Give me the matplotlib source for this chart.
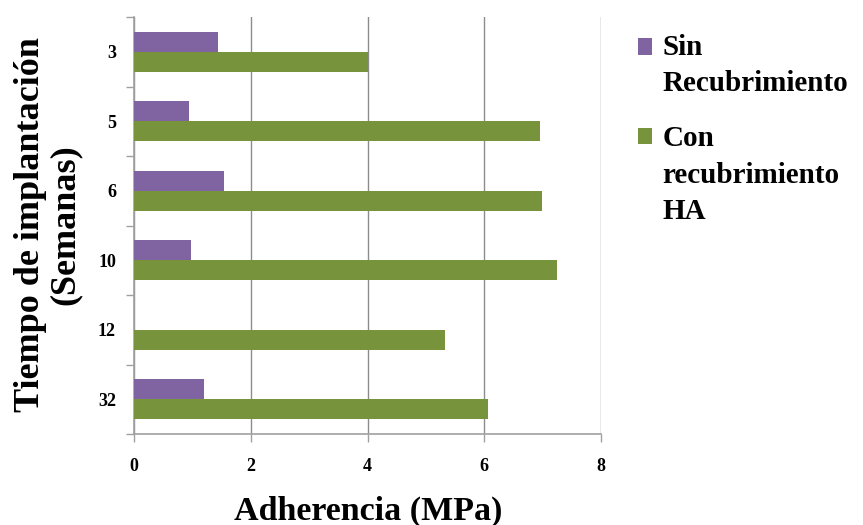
import matplotlib
matplotlib.use("Agg")
import matplotlib.pyplot as plt
from matplotlib.legend_handler import HandlerPatch
from matplotlib.patches import Rectangle
import numpy as np

# Adherencia por tiempo de implantacion
semanas = ['3', '5', '6', '10', '12', '32']
sin_recubrimiento = [1.44, 0.94, 1.54, 0.98, 0.0, 1.20]
con_recubrimiento_ha = [4.00, 6.95, 6.99, 7.25, 5.33, 6.06]
x_ticks = [0, 2, 4, 6, 8]

PURPLE = '#8064A2'
GREEN = '#77933C'
AXIS_GRAY = '#A0A0A0'
LEG_SIZE = 21
LEG_LINESPACING = 1.45

plt.rcParams['font.family'] = ['Liberation Serif', 'DejaVu Serif']
plt.rcParams['font.weight'] = 'bold'


class FirstLineHandler(HandlerPatch):
    """Square legend key placed next to the first line of a multi-line label."""

    def create_artists(self, legend, orig_handle, xdescent, ydescent,
                       width, height, fontsize, trans):
        n_lines = orig_handle.get_label().count('\n') + 1
        shift = (n_lines - 1) * 0.46 * LEG_LINESPACING * fontsize
        p = Rectangle((-xdescent, -ydescent + shift), width, height,
                      facecolor=orig_handle.get_facecolor(), edgecolor='none')
        p.set_transform(trans)
        return [p]


fig = plt.figure(figsize=(8.63, 5.25), dpi=100)
ax = fig.add_axes([134 / 863, 1 - 434 / 525, 467 / 863, 417 / 525])

pos = np.arange(len(semanas))
bar_h = 0.286

b1 = ax.barh(pos - bar_h / 2, sin_recubrimiento, height=bar_h, color=PURPLE, zorder=3)
b2 = ax.barh(pos + bar_h / 2, con_recubrimiento_ha, height=bar_h, color=GREEN, zorder=3)

ax.set_ylim(len(semanas) - 0.5, -0.5)
ax.set_xlim(0, 8)

# tick marks on category boundaries, labels at the centres
ax.set_yticks(np.arange(len(semanas) + 1) - 0.5)
ax.set_yticklabels([])
ax.set_yticks(pos, minor=True)
ax.set_yticklabels(semanas, minor=True, fontsize=13, fontweight='bold')
ax.tick_params(axis='y', which='major', length=6, width=1, color=AXIS_GRAY, direction='out')
ax.tick_params(axis='y', which='minor', length=0, pad=13)

ax.set_xticks(x_ticks)
ax.set_xticklabels([str(v) for v in x_ticks], fontsize=13, fontweight='bold')
ax.tick_params(axis='x', length=6, width=1, color=AXIS_GRAY, direction='out', pad=11)

ax.grid(axis='x', color='#8C8C8C', linewidth=1, zorder=0)
for side in ['top', 'right']:
    ax.spines[side].set_visible(False)
for side in ['left', 'bottom']:
    ax.spines[side].set_color(AXIS_GRAY)
    ax.spines[side].set_linewidth(1.2)

fig.text(368 / 863, 1 - 511 / 525, 'Adherencia (MPa)', ha='center', va='center',
         fontsize=24.5, fontweight='bold')
fig.text(48 / 863, 1 - 225 / 525, 'Tiempo de implantación\n(Semanas)', ha='center',
         va='center', rotation=90, fontsize=26, fontweight='bold', linespacing=1.05)

handles = [b1.patches[0], b2.patches[0]]
for h, lab in zip(handles, ['Sin\nRecubrimiento', 'Con\nrecubrimiento\nHA']):
    h.set_label(lab)
leg = ax.legend(handles=handles, labels=[h.get_label() for h in handles],
                loc='upper left', bbox_to_anchor=(638 / 863, 1 - 34 / 525),
                bbox_transform=fig.transFigure, frameon=False,
                prop={'size': LEG_SIZE, 'weight': 'bold'}, handlelength=0.48,
                handleheight=0.48, handletextpad=0.36, labelspacing=0.95,
                borderpad=0, borderaxespad=0,
                handler_map={Rectangle: FirstLineHandler()})
for t in leg.get_texts():
    t.set_linespacing(LEG_LINESPACING)

fig.savefig('out.png', dpi=100)
